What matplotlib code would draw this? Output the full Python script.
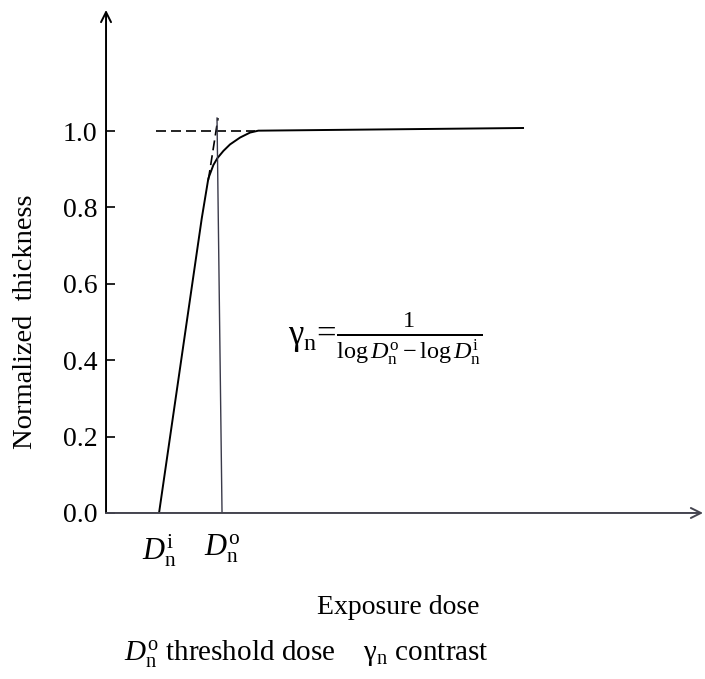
import numpy as np
import matplotlib.pyplot as plt

plt.rcParams['font.family'] = ['Liberation Serif', 'DejaVu Serif']
plt.rcParams['mathtext.fontset'] = 'custom'
plt.rcParams['mathtext.rm'] = 'Liberation Serif'
plt.rcParams['mathtext.it'] = 'Liberation Serif:italic'

# response curve (dose in arbitrary units)
dose = [0.888, 1.603, 1.714, 1.798, 1.865, 1.966, 2.077, 2.245, 2.412, 2.551, 6.985]
thickness = [0.0, 0.771, 0.876, 0.911, 0.929, 0.948, 0.965, 0.983, 0.996, 1.001, 1.008]

# dashed extrapolation of the linear part
tangent_x = [1.714, 1.876]
tangent_y = [0.872, 1.034]

# dashed line at full thickness
full_x = [0.83, 2.5]
full_y = [1.0, 1.0]

# line down to D_n^o
thresh_x = [1.943, 1.859]
thresh_y = [0.0, 1.034]

xtick_pos = [0.888, 1.943]
xtick_labels = [r'$D_{\mathrm{n}}^{\mathrm{i}}$', r'$D_{\mathrm{n}}^{\mathrm{o}}$']
ytick_pos = [0.0, 0.2, 0.4, 0.6, 0.8, 1.0]

fig = plt.figure(figsize=(7.05, 6.79), dpi=100)
ax = fig.add_axes([0.1504, 0.2445, 0.8468, 0.7408])

ax.plot(dose, thickness, color='black', lw=1.4)
ax.plot(tangent_x, tangent_y, color='black', lw=1.2, dashes=(6, 3))
ax.plot(full_x, full_y, color='black', lw=1.2, dashes=(6, 3))
ax.plot(thresh_x, thresh_y, color='#3a3a4a', lw=1.0)

ax.set_xlim(0, 10)
ax.set_ylim(0, 1.317)
for s in ax.spines.values():
    s.set_visible(False)

# axes drawn as arrows
ax.annotate('', xy=(0, 1), xytext=(0, 0), xycoords='axes fraction',
            arrowprops=dict(arrowstyle='->', color='black', lw=1.4,
                            shrinkA=0, shrinkB=0, mutation_scale=18))
ax.annotate('', xy=(1, 0), xytext=(0, 0), xycoords='axes fraction',
            arrowprops=dict(arrowstyle='->', color='#44444f', lw=1.4,
                            shrinkA=0, shrinkB=0, mutation_scale=18))

ax.set_yticks(ytick_pos)
ax.set_yticklabels(['%.1f' % v for v in ytick_pos])
ax.tick_params(axis='y', direction='in', length=6.5, width=1.2, pad=6, labelsize=20)
ax.set_xticks(xtick_pos)
ax.set_xticklabels(xtick_labels)
ax.tick_params(axis='x', length=0, pad=14, labelsize=22)

fig.text(26 / 705, 1 - 322 / 679, 'Normalized  thickness', rotation=90,
         ha='center', va='center', fontsize=20.5)
fig.text(398 / 705, 1 - 607 / 679, 'Exposure dose', ha='center', va='center', fontsize=20)
fig.text(306 / 705, 1 - 655 / 679,
         r'$D_{\mathrm{n}}^{\mathrm{o}}$ threshold dose    $\mathrm{\gamma}_{\mathrm{n}}$ contrast',
         ha='center', va='center', fontsize=21)
fig.text(288 / 705, 1 - 338 / 679,
         r'$\mathrm{\gamma}_{\mathrm{n}}$=$\frac{1}{\mathrm{log}\,D_{\mathrm{n}}^{\mathrm{o}}-\mathrm{log}\,D_{\mathrm{n}}^{\mathrm{i}}}$',
         ha='left', va='center', fontsize=25)

fig.savefig('out.png', dpi=100)
